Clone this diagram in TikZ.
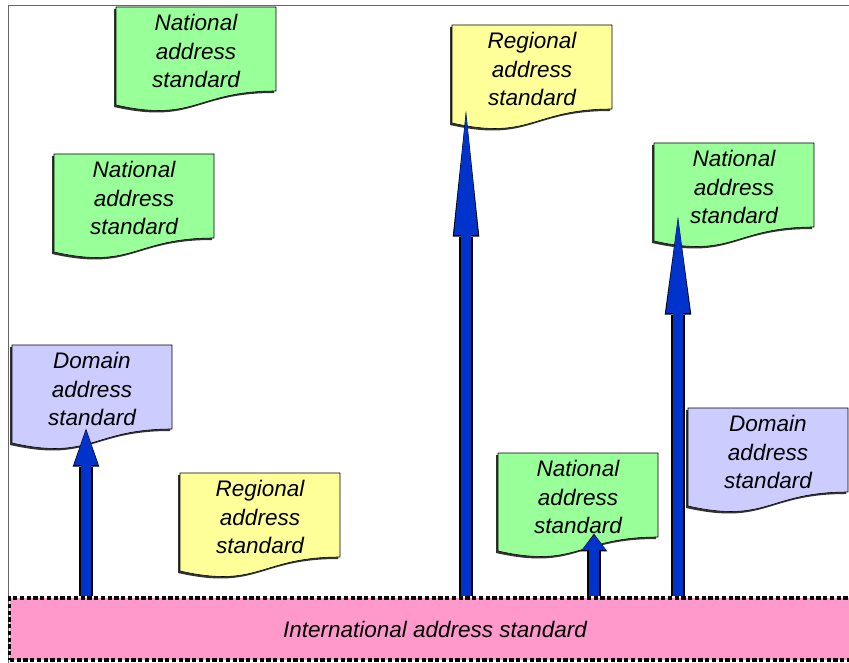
\documentclass[tikz,border=0pt]{standalone}
\usepackage{fontspec}
\setmainfont{Liberation Sans}
\usetikzlibrary{arrows.meta}

\definecolor{natgreen}{RGB}{153,255,153}
\definecolor{regyellow}{RGB}{255,255,153}
\definecolor{domlilac}{RGB}{204,204,255}
\definecolor{intlpink}{RGB}{255,153,204}
\definecolor{arrowblue}{RGB}{0,51,204}

\tikzset{
  sheet/.style={align=center, inner sep=0pt, font=\itshape\fontsize{16}{20}\selectfont},
  bar/.style={draw, fill=intlpink, line width=2.2pt, dash pattern=on 3pt off 1.8pt,
    minimum width=21.25cm, minimum height=1.55cm, font=\itshape\fontsize{16}{20}\selectfont},
  upshaft/.style={arrowblue, line width=7.8pt},
  outline/.style={black, line width=9.4pt}
}

\begin{document}
\begin{tikzpicture}[x=0.025cm, y=-0.025cm]
  \useasboundingbox (0,0) rectangle (849,663);
  \clip (0,0) rectangle (849,663);
  \draw[black!60, line width=0.6pt] (8,5) rectangle (900,700);

  % standard documents
  \foreach \nm/\cx/\cy/\col/\kind in {natA/196/51/natgreen/National, natB/134/198/natgreen/National,
      domA/92/389/domlilac/Domain, regA/260/517/regyellow/Regional, regB/532/69/regyellow/Regional,
      natC/734/187/natgreen/National, natD/578/497/natgreen/National, domB/768/452/domlilac/Domain}
  {
    \begin{scope}[shift={(\cx,\cy)}]
      \fill[black!80] (-82,-42) -- (78,-42) -- (78,42) .. controls (-2,42) and (-2,74) .. (-82,56) -- cycle;
      \filldraw[fill=\col, draw=black, line width=0.4pt] (-80,-44) -- (80,-44) -- (80,40)
        .. controls (0,40) and (0,72) .. (-80,54) -- cycle;
      \node[sheet] (\nm) at (0,0) {\kind\\address\\standard};
    \end{scope}
  }

  \node[bar] (intl) at (435,629) {International address standard};

  \coordinate (tipA) at (86,430);
  \coordinate (tipB) at (466,112);
  \coordinate (tipC) at (594,535);
  \coordinate (tipD) at (678,218);

  % arrows up from the international standard
  \foreach \tp/\hl/\hlo in {tipA/24.9pt/27pt, tipB/87.5pt/89.6pt, tipC/10.7pt/12.6pt, tipD/67.6pt/69.7pt}
  {
    \draw[outline, -{Triangle[length=\hlo, width=18.9pt, line width=0pt]}] (\tp |- intl.north) -- ([yshift=1pt]\tp);
    \draw[upshaft, -{Triangle[length=\hl, width=17.1pt, line width=0pt]}] (\tp |- intl.north) -- (\tp);
  }
\end{tikzpicture}
\end{document}
